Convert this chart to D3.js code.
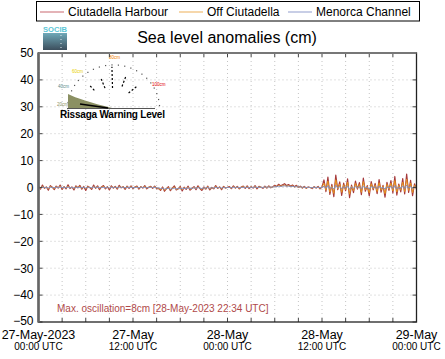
<!DOCTYPE html>
<html><head><meta charset="utf-8">
<script src="https://cdn.jsdelivr.net/npm/d3@7"></script>
<style>body{margin:0;background:#fff}svg{display:block}text{font-family:"Liberation Sans",Arial,sans-serif}</style>
</head><body><svg id="c" width="445" height="359"></svg>
<script>
// ---- data ----
const seriesNames = ["Ciutadella Harbour", "Off Ciutadella", "Menorca Channel"];
const hoursStep = 0.25; // samples every 15 min from 27-May-2023 00:00 UTC
const ciutadellaHarbour = [
 0.4,-0.6,0.9,-0.3,0.2,-1.0,0.7,0.1,-0.8,0.5,-0.2,0.9,-0.7,0.3,-0.5,1.0,-0.4,0.2,-0.9,0.6,
 -0.1,0.8,-0.6,0.4,-1.1,0.5,0.0,-0.7,0.9,-0.3,0.6,-0.8,0.2,0.7,-0.5,0.3,-0.9,0.6,-0.2,0.4,
 -0.6,0.8,-0.1,0.3,-0.7,0.5,-0.3,0.6,-0.4,0.2,0.5,-0.6,0.3,-0.2,0.7,-0.5,0.1,0.4,-0.3,0.5,-0.4,
 -0.3,-1.1,0.2,-1.4,-0.4,0.3,-1.2,-0.2,0.6,-0.9,-0.5,0.4,-1.3,0.1,-0.7,0.5,-1.0,-0.3,
 0.3,-0.8,0.6,-0.4,-1.1,0.2,-0.6,0.5,-0.9,0.0,-0.5,0.7,-0.3,0.2,-0.8,0.4,-0.2,0.1,
 0.3,-0.4,0.6,-0.2,0.4,-0.5,0.2,0.5,-0.3,0.6,-0.4,0.3,-0.2,0.7,-0.5,0.4,0.1,-0.3,0.5,-0.2,
 0.6,-0.1,0.3,0.8,0.4,1.2,0.6,1.0,1.4,0.7,1.1,0.5,0.9,0.3,0.8,0.1,0.5,-0.2,0.4,-0.3,
 0.2,0.0,-0.4,0.3,-0.2,0.4,-0.5,0.2,
 2.8,-1.5,3.9,-2.6,1.2,-3.4,4.6,-0.8,2.1,-2.9,1.6,-1.2,3.2,-3.8,0.9,-1.9,2.4,-0.6,1.8,-2.7,
 3.5,-1.4,0.7,-3.1,2.2,-0.9,1.5,-2.3,2.9,-1.7,0.8,-3.6,1.9,-1.1,2.6,-2.0,4.1,-2.8,1.3,-1.6,
 3.3,-2.4,5.0,-1.8,2.7,-3.0,1.4,-0.7];
const offCiutadella = [
 0.2,-0.3,0.5,-0.1,0.1,-0.5,0.4,0.0,-0.4,0.3,-0.1,0.5,-0.3,0.2,-0.2,0.5,-0.2,0.1,-0.4,0.3,
 0.0,0.4,-0.3,0.2,-0.5,0.3,0.0,-0.3,0.4,-0.1,0.3,-0.4,0.1,0.4,-0.2,0.2,-0.4,0.3,-0.1,0.2,
 -0.3,0.4,0.0,0.2,-0.3,0.3,-0.1,0.3,-0.2,0.1,0.3,-0.3,0.2,-0.1,0.4,-0.2,0.1,0.2,-0.1,0.3,-0.2,
 -0.4,-0.8,-0.1,-1.0,-0.5,0.0,-0.9,-0.3,0.2,-0.7,-0.5,0.1,-0.9,-0.1,-0.5,0.2,-0.7,-0.3,
 0.1,-0.5,0.3,-0.3,-0.7,0.0,-0.4,0.3,-0.6,-0.1,-0.3,0.4,-0.2,0.1,-0.5,0.2,-0.1,0.0,
 0.1,-0.2,0.3,-0.1,0.2,-0.3,0.1,0.3,-0.1,0.3,-0.2,0.2,-0.1,0.4,-0.2,0.2,0.1,-0.1,0.3,-0.1,
 0.4,0.0,0.2,0.5,0.3,0.8,0.5,0.7,0.9,0.5,0.7,0.4,0.6,0.2,0.5,0.1,0.3,-0.1,0.2,-0.2,
 0.1,0.0,-0.2,0.2,-0.1,0.2,-0.3,0.1,
 1.6,-1.0,2.4,-1.7,0.6,-2.2,2.9,-0.5,1.3,-1.8,1.0,-0.8,2.0,-2.5,0.5,-1.2,1.5,-0.3,1.1,-1.8,
 2.2,-0.9,0.4,-2.0,1.4,-0.5,0.9,-1.5,1.8,-1.0,0.5,-2.3,1.2,-0.6,1.6,-1.3,2.6,-1.7,0.8,-1.0,
 2.0,-1.5,3.1,-1.1,1.7,-1.9,0.9,-0.4];
const menorcaChannel = [
 0.1,-0.1,0.2,0.0,0.0,-0.2,0.1,0.0,-0.1,0.1,0.0,0.2,-0.1,0.1,-0.1,0.2,-0.1,0.0,-0.2,0.1,
 0.0,0.1,-0.1,0.1,-0.2,0.1,0.0,-0.1,0.2,0.0,0.1,-0.1,0.0,0.1,-0.1,0.1,-0.2,0.1,0.0,0.1,
 -0.1,0.2,0.0,0.1,-0.1,0.1,0.0,0.1,-0.1,0.0,0.1,-0.1,0.1,0.0,0.1,-0.1,0.0,0.1,0.0,0.1,-0.1,
 -0.2,-0.4,-0.3,-0.6,-0.4,-0.3,-0.6,-0.4,-0.2,-0.5,-0.4,-0.2,-0.5,-0.3,-0.4,-0.1,-0.4,-0.3,
 -0.1,-0.3,0.0,-0.2,-0.4,-0.1,-0.2,0.0,-0.3,-0.1,-0.2,0.1,-0.1,0.0,-0.2,0.0,-0.1,0.0,
 0.0,-0.1,0.1,0.0,0.1,-0.1,0.0,0.1,0.0,0.1,-0.1,0.1,0.0,0.2,0.0,0.1,0.1,0.0,0.2,0.1,
 0.2,0.1,0.2,0.3,0.3,0.5,0.4,0.5,0.6,0.5,0.5,0.4,0.4,0.3,0.3,0.2,0.2,0.1,0.1,0.0,
 0.1,0.0,-0.1,0.1,0.0,0.1,-0.1,0.0,
 0.5,-0.3,0.7,-0.5,0.2,-0.6,0.8,-0.1,0.4,-0.5,0.3,-0.2,0.6,-0.7,0.2,-0.3,0.4,-0.1,0.3,-0.5,
 0.6,-0.2,0.1,-0.6,0.4,-0.1,0.3,-0.4,0.5,-0.3,0.1,-0.6,0.3,-0.2,0.5,-0.4,0.7,-0.5,0.2,-0.3,
 0.6,-0.4,0.9,-0.3,0.5,-0.5,0.3,-0.1];
const yTicks = [50,40,30,20,10,0,-10,-20,-30,-40,-50];
const xTickHours = [0,12,24,36,48];
const xTickDates = ["27-May-2023","27-May","28-May","28-May","29-May"];
const xTickTimes = ["00:00 UTC","12:00 UTC","00:00 UTC","12:00 UTC","00:00 UTC"];
const titleText = "Sea level anomalies (cm)";
const maxOscText = "Max. oscillation=8cm [28-May-2023 22:34 UTC]";
const warningText = "Rissaga Warning Level";

// ---- layout ----
const svg = d3.select("#c");
const L = 38.5, R = 416.5, T = 53, B = 322;
const x = d3.scaleLinear().domain([0,48]).range([L,R]);
const y = d3.scaleLinear().domain([-50,50]).range([B,T]);
const lineColors = ["#a63a3c","#e8921c","#7f8cc0"];
const legendColors = ["#d58a90","#f2c17e","#aab3d8"];

// gridlines
const g = svg.append("g");
g.selectAll("line.hg").data(yTicks.filter(v=>v>-50&&v<50)).join("line")
 .attr("x1",L).attr("x2",R).attr("y1",d=>y(d)).attr("y2",d=>y(d))
 .attr("stroke","#c4c4c4").attr("stroke-dasharray","1,3");
const minor = d3.range(3,48,3);
g.selectAll("line.vg").data(minor).join("line")
 .attr("y1",T).attr("y2",B).attr("x1",d=>x(d)).attr("x2",d=>x(d))
 .attr("stroke","#c4c4c4").attr("stroke-dasharray","1,3");

// rissaga inset
const ins = svg.append("g");
const cx = 113, cy = 108, rr = 46;
const arc = d3.range(0,181,8).map(a=>[cx - rr*Math.cos(a*Math.PI/180), cy - rr*0.95*Math.sin(a*Math.PI/180)]);
ins.selectAll("rect.ad").data(arc).join("rect").attr("x",d=>d[0]).attr("y",d=>d[1]).attr("width",1.2).attr("height",1.2).attr("fill","#555");
ins.append("path").attr("d","M68,94 Q80,100 112,108 L68,108 Z").attr("fill","#8b9063");
ins.append("line").attr("x1",68).attr("x2",155).attr("y1",108.5).attr("y2",108.5).attr("stroke","#555").attr("stroke-width",1);
ins.append("line").attr("x1",80).attr("x2",108).attr("y1",104).attr("y2",108).attr("stroke","#000").attr("stroke-width",1.6);
const needles = [[32,22,40],[60,16,36],[88,14,44],[120,18,36],[150,18,40]];
needles.forEach(([a,r0,r1])=>{
  const rad=a*Math.PI/180;
  ins.append("line").attr("x1",cx-r0*Math.cos(rad)).attr("y1",cy-r0*Math.sin(rad)-6)
   .attr("x2",cx-r1*Math.cos(rad)*0.7).attr("y2",cy-r1*Math.sin(rad)*0.8-6)
   .attr("stroke","#000").attr("stroke-width",1.2).attr("stroke-dasharray","2,2");
});
const lvl = [[57,106,"#8b9063","20cm"],[58,88,"#5a8a8a","40cm"],[72,73,"#e8d000","60cm"],[109,59,"#f08000","80cm"],[152,86,"#e00000","100cm"]];
ins.selectAll("text.lv").data(lvl).join("text").attr("x",d=>d[0]).attr("y",d=>d[1]).attr("fill",d=>d[2])
 .attr("font-size",4.5).text(d=>d[3]);
ins.append("text").attr("x",60).attr("y",117.5).attr("font-size",10).attr("font-weight","bold")
 .attr("font-family","'DejaVu Sans Condensed','Liberation Sans Narrow',sans-serif").attr("textLength",105).text(warningText);

// series lines
const series = [ciutadellaHarbour, offCiutadella, menorcaChannel];
const line = d3.line().x((d,i)=>x(i*hoursStep)).y(d=>y(d));
series.forEach((s,k)=>{
  svg.append("path").datum(s).attr("d",line).attr("fill","none")
   .attr("stroke",lineColors[k]).attr("stroke-width",k===0?1.2:1).attr("stroke-linejoin","round");
});

// axes
svg.append("g").attr("transform",`translate(${L},0)`)
 .call(d3.axisLeft(y).tickValues(yTicks).tickSize(0).tickPadding(5).tickFormat(d3.format("d")))
 .call(a=>a.select(".domain").remove())
 .call(a=>a.selectAll("text").attr("font-size",12).attr("fill","#000").attr("font-family","'Liberation Sans',Arial,sans-serif")
   .attr("dy",d=>d===-50?"0.2em":"0.32em"));
// inner ticks
svg.append("g").selectAll("line").data(yTicks).join("line").attr("x1",L).attr("x2",L+4).attr("y1",d=>y(d)).attr("y2",d=>y(d)).attr("stroke","#444");
svg.append("g").selectAll("line").data(yTicks).join("line").attr("x1",R-4).attr("x2",R).attr("y1",d=>y(d)).attr("y2",d=>y(d)).attr("stroke","#444");
svg.append("g").selectAll("line").data(d3.range(0,49,3)).join("line").attr("x1",d=>x(d)).attr("x2",d=>x(d)).attr("y1",B-4).attr("y2",B).attr("stroke","#444");
svg.append("g").selectAll("line").data(d3.range(0,49,3)).join("line").attr("x1",d=>x(d)).attr("x2",d=>x(d)).attr("y1",T).attr("y2",T+4).attr("stroke","#444");
// frame
svg.append("rect").attr("x",L).attr("y",T).attr("width",R-L).attr("height",B-T).attr("fill","none").attr("stroke","#222").attr("stroke-width",1.3);
svg.append("line").attr("x1",L).attr("x2",L).attr("y1",T-0.5).attr("y2",B+0.5).attr("stroke","#666").attr("stroke-width",2.6);
svg.append("line").attr("x1",L).attr("x2",R).attr("y1",T).attr("y2",T).attr("stroke","#777").attr("stroke-width",2);

// x labels
const xl = svg.append("g");
xl.selectAll("text.d").data(xTickHours).join("text").attr("x",d=>x(d)).attr("y",339).attr("text-anchor","middle")
 .attr("font-size",12.5).text((d,i)=>xTickDates[i]);
xl.selectAll("text.t").data(xTickHours).join("text").attr("x",d=>x(d)).attr("y",350).attr("text-anchor","middle")
 .attr("font-size",10).text((d,i)=>xTickTimes[i]);

// max oscillation
svg.append("text").attr("x",57).attr("y",312).attr("font-size",10).attr("fill","#b04a4a").text(maxOscText);

// title
svg.append("text").attr("x",227).attr("y",43).attr("text-anchor","middle").attr("font-size",16).text(titleText);

// logo
const defs = svg.append("defs");
const lg = defs.append("linearGradient").attr("id","lg").attr("x1",0).attr("x2",0).attr("y1",0).attr("y2",1);
lg.append("stop").attr("offset",0).attr("stop-color","#6fa9b9");
lg.append("stop").attr("offset",1).attr("stop-color","#3c4e5c");
svg.append("rect").attr("x",43).attr("y",33).attr("width",24).attr("height",17).attr("fill","url(#lg)");
svg.append("text").attr("x",43).attr("y",32).attr("font-size",8).attr("font-weight","bold").attr("fill","#5cc6d6")
 .attr("font-family","'DejaVu Sans Mono',monospace").attr("textLength",24).attr("lengthAdjust","spacingAndGlyphs").text("SOCIB");
svg.append("line").attr("x1",61).attr("x2",61).attr("y1",35).attr("y2",50).attr("stroke","#dfe8ec").attr("stroke-dasharray","1,3");

// legend
svg.append("rect").attr("x",36.5).attr("y",1.5).attr("width",383).attr("height",19.5).attr("fill","#fff").attr("stroke","#000");
const legX = [40,179,288];
seriesNames.forEach((n,k)=>{
  svg.append("line").attr("x1",legX[k]).attr("x2",legX[k]+24).attr("y1",12).attr("y2",12).attr("stroke",legendColors[k]).attr("stroke-width",1.3);
  svg.append("text").attr("x",legX[k]+28).attr("y",16).attr("font-size",12).text(n);
});
</script></body></html>
